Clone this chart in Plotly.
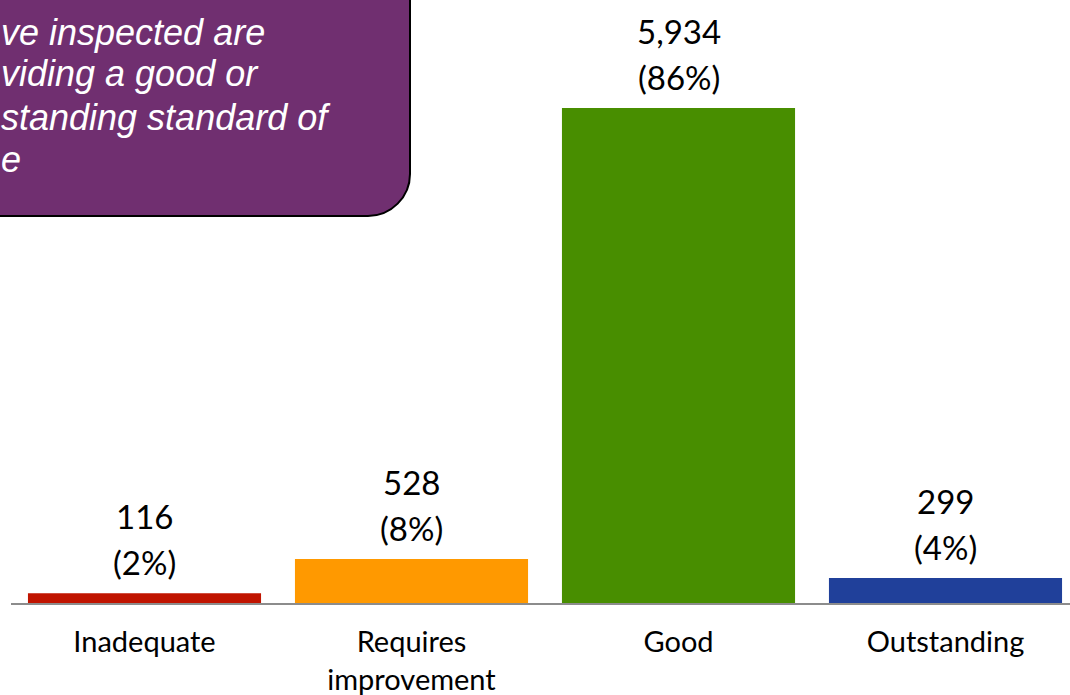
import plotly.graph_objects as go

categories = ["Inadequate", "Requires<br>improvement", "Good", "Outstanding"]
counts = [116, 528, 5934, 299]
bar_colors = ["#C01400", "#FF9900", "#488E00", "#20409A"]
callout_lines = ["ve inspected are", "viding a good or", "standing standard of", "e"]

W, H = 1070, 695
ML, MR, MT, MB = 11, 0, 20, 92
PW, PH = W - ML - MR, H - MT - MB

def px(x):
    return (x - ML) / PW

def py(y):
    return (H - MB - y) / PH

total = sum(counts)
pcts = [round(c / total * 100) for c in counts]

fig = go.Figure()
fig.add_trace(go.Bar(
    x=list(range(len(categories))), y=counts,
    marker=dict(color=bar_colors, line=dict(width=0)),
    hoverinfo="skip",
))

annotations = []
for i, (c, p) in enumerate(zip(counts, pcts)):
    annotations.append(dict(x=i, y=c, xref="x", yref="y", text=f"{c:,}",
                            showarrow=False, yanchor="middle", yshift=77,
                            font=dict(family="Lato", size=33, color="black")))
    annotations.append(dict(x=i, y=c, xref="x", yref="y", text=f"({p}%)",
                            showarrow=False, yanchor="middle", yshift=31,
                            font=dict(family="Lato", size=33, color="black")))

# callout box (rounded bottom-right corner)
x0, x1, y0, y1, r = -30, 410, -30, 216, 42
path = (f"M {px(x0)},{py(y0)} L {px(x1)},{py(y0)} L {px(x1)},{py(y1 - r)} "
        f"C {px(x1)},{py(y1 - r*0.45)} {px(x1 - r*0.45)},{py(y1)} {px(x1 - r)},{py(y1)} "
        f"L {px(x0)},{py(y1)} Z")
shapes = [dict(type="path", xref="paper", yref="paper", path=path,
               fillcolor="#702F70", line=dict(color="black", width=2), layer="above")]

baselines = [32, 74, 117, 159]
for line, b in zip(callout_lines, baselines):
    annotations.append(dict(x=px(-1), y=py(b), xref="paper", yref="paper",
                            text=f"<i>{line}</i>", showarrow=False,
                            xanchor="left", yanchor="middle",
                            font=dict(family="Liberation Sans", size=36, color="white")))

fig.update_layout(
    width=W, height=H,
    margin=dict(l=ML, r=MR, t=MT, b=MB, pad=0, autoexpand=False),
    paper_bgcolor="white", plot_bgcolor="white",
    showlegend=False, bargap=0.127,
    xaxis=dict(range=[-0.5, -0.5 + PW / 267.0], tickmode="array",
               tickvals=list(range(len(categories))), ticktext=categories,
               showline=True, linecolor="#8C8C8C", linewidth=2,
               showgrid=False, zeroline=False, ticks="", automargin=False,
               ticklabelstandoff=12,
               tickfont=dict(family="Lato", size=29, color="black")),
    yaxis=dict(range=[0, PH / (495 / 5934)], visible=False,
               showgrid=False, zeroline=False, automargin=False),
    shapes=shapes, annotations=annotations,
)

fig.write_html("out.html")
